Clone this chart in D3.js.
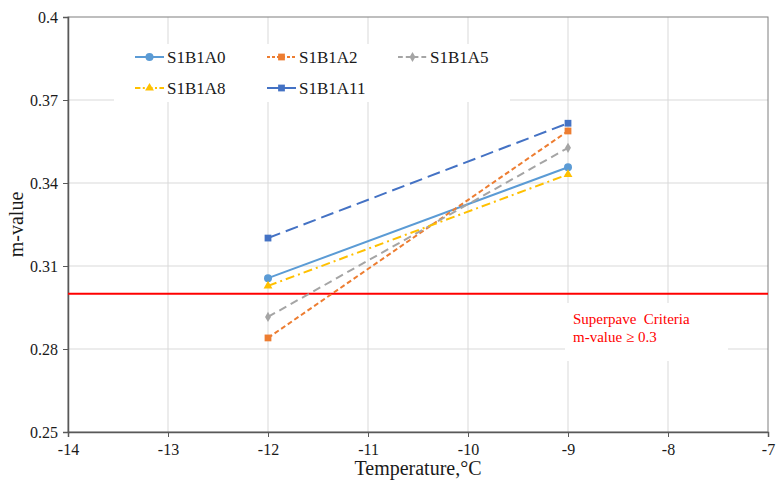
<!DOCTYPE html>
<html>
<head>
<meta charset="utf-8">
<script src="https://cdn.jsdelivr.net/npm/d3@7"></script>
<style>
  html, body { margin: 0; padding: 0; background: #fff; }
  svg text { font-family: "Liberation Serif", "Times New Roman", serif; }
</style>
</head>
<body>
<svg id="chart" width="780" height="489"></svg>
<script>
// Test temperatures (°C)
const temperatures = [-12, -9];

// m-value per mix at each temperature
const seriesNames = ["S1B1A0", "S1B1A2", "S1B1A5", "S1B1A8", "S1B1A11"];
const valuesA0  = [0.3056, 0.3457];
const valuesA2  = [0.2840, 0.3588];
const valuesA5  = [0.2916, 0.3527];
const valuesA8  = [0.3028, 0.3431];
const valuesA11 = [0.3201, 0.3616];

const xTicks = [-14, -13, -12, -11, -10, -9, -8, -7];
const yTicks = [0.25, 0.28, 0.31, 0.34, 0.37, 0.4];
const criterion = 0.3;

const SERIF = "'Liberation Serif', 'Times New Roman', serif";

const styles = [
  { color: "#5b9bd5", dash: null,       marker: "circle" },
  { color: "#ed7d31", dash: "5,3",      marker: "square" },
  { color: "#a5a5a5", dash: "8,5",      marker: "diamond" },
  { color: "#ffc000", dash: "9,4,2,4",  marker: "triangle" },
  { color: "#4472c4", dash: "13,6",     marker: "square" }
];
const allValues = [valuesA0, valuesA2, valuesA5, valuesA8, valuesA11];
const series = seriesNames.map((name, i) => ({
  name, style: styles[i],
  points: temperatures.map((t, j) => ({ t, v: allValues[i][j] }))
}));

const svg = d3.select("#chart");
const plotLeft = 68, plotRight = 768, plotTop = 17, plotBottom = 432;
const x = d3.scaleLinear().domain([-14, -7]).range([plotLeft, plotRight]);
const y = d3.scaleLinear().domain([0.25, 0.4]).range([plotBottom, plotTop]);

// gridlines
svg.append("g").selectAll("line").data(xTicks.slice(1, -1)).join("line")
  .attr("x1", d => x(d)).attr("x2", d => x(d))
  .attr("y1", plotTop).attr("y2", plotBottom)
  .attr("stroke", "#d9d9d9").attr("stroke-width", 1);
svg.append("g").selectAll("line").data(yTicks.slice(1, -1)).join("line")
  .attr("x1", plotLeft).attr("x2", plotRight)
  .attr("y1", d => y(d)).attr("y2", d => y(d))
  .attr("stroke", "#d9d9d9").attr("stroke-width", 1);

// frame
svg.append("rect").attr("x", plotLeft).attr("y", plotTop)
  .attr("width", plotRight - plotLeft).attr("height", plotBottom - plotTop)
  .attr("fill", "none").attr("stroke", "#7f7f7f").attr("stroke-width", 1);

// axes
const xAxis = svg.append("g").attr("transform", `translate(0,${plotBottom})`)
  .call(d3.axisBottom(x).tickValues(xTicks).tickSize(5).tickPadding(7).tickFormat(d => String(d)));
const yAxis = svg.append("g").attr("transform", `translate(${plotLeft},0)`)
  .call(d3.axisLeft(y).tickValues(yTicks).tickSize(5).tickPadding(5).tickFormat(d => String(+d.toFixed(2))));
[xAxis, yAxis].forEach(g => {
  g.attr("font-family", SERIF);
  g.select(".domain").attr("stroke", "#595959").attr("stroke-width", 1.5);
  g.selectAll(".tick line").attr("stroke", "#595959");
  g.selectAll(".tick text").attr("fill", "#1a1a1a").style("font-size", "16px")
    .style("font-family", SERIF);
});

// axis titles
svg.append("text").attr("x", x(-10.5)).attr("y", 475).attr("text-anchor", "middle")
  .attr("fill", "#1a1a1a").style("font-family", SERIF).style("font-size", "20px").text("Temperature,°C");
svg.append("text").attr("transform", `translate(23,${y(0.325)}) rotate(-90)`)
  .attr("text-anchor", "middle").attr("fill", "#1a1a1a").style("font-family", SERIF)
  .style("font-size", "20px").text("m-value");

// criterion line
svg.append("line").attr("x1", plotLeft).attr("x2", plotRight)
  .attr("y1", y(criterion)).attr("y2", y(criterion))
  .attr("stroke", "#ff0000").attr("stroke-width", 2);

// criterion label
svg.append("rect").attr("x", 565).attr("y", 303).attr("width", 163).attr("height", 58).attr("fill", "#fff");
const note = svg.append("text").attr("fill", "#ff0000").style("font-family", SERIF).style("font-size", "15px");
note.append("tspan").attr("x", 573).attr("y", 324).attr("xml:space", "preserve").text("Superpave  Criteria");
note.append("tspan").attr("x", 573).attr("y", 342).text("m-value \u2265 0.3");

function drawMarker(g, type, cx, cy, color) {
  if (type === "circle") {
    g.append("circle").attr("cx", cx).attr("cy", cy).attr("r", 4).attr("fill", color);
  } else {
    const sym = { square: d3.symbolSquare, diamond: d3.symbolDiamond, triangle: d3.symbolTriangle }[type];
    const size = { square: 46, diamond: 30, triangle: 34 }[type];
    g.append("path").attr("d", d3.symbol().type(sym).size(size)())
      .attr("transform", `translate(${cx},${cy})`).attr("fill", color);
  }
}

// series lines and markers
const line = d3.line().x(d => x(d.t)).y(d => y(d.v));
series.forEach(s => {
  const g = svg.append("g");
  g.append("path").datum(s.points).attr("d", line).attr("fill", "none")
    .attr("stroke", s.style.color).attr("stroke-width", 2)
    .attr("stroke-dasharray", s.style.dash);
  s.points.forEach(p => drawMarker(g, s.style.marker, x(p.t), y(p.v), s.style.color));
});

// legend
svg.append("rect").attr("x", 114).attr("y", 44).attr("width", 396).attr("height", 58).attr("fill", "#fff");
const legendPos = [[135, 57], [267, 57], [398, 57], [135, 88], [267, 88]];
series.forEach((s, i) => {
  const [lx, ly] = legendPos[i];
  const g = svg.append("g");
  g.append("line").attr("x1", lx).attr("x2", lx + 29).attr("y1", ly).attr("y2", ly)
    .attr("stroke", s.style.color).attr("stroke-width", 2)
    .attr("stroke-dasharray", s.style.dash ? (i === 4 ? null : s.style.dash.split(",").map(v => Math.max(2, v * 0.6)).join(",")) : null);
  drawMarker(g, s.style.marker, lx + 14.5, ly, s.style.color);
  g.append("text").attr("x", lx + 32).attr("y", ly + 6).attr("fill", "#1a1a1a")
    .style("font-family", SERIF).style("font-size", "17px").text(s.name);
});
</script>
</body>
</html>
